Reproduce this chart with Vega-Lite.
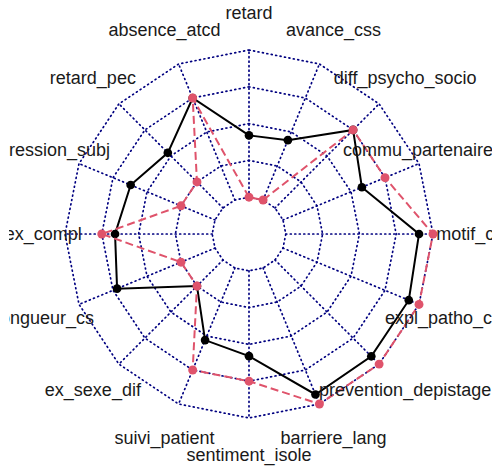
{
  "$schema": "https://vega.github.io/schema/vega-lite/v6.json",
  "width": 483,
  "height": 469,
  "padding": {"left": 9, "top": 0, "right": 0, "bottom": 0},
  "autosize": {"type": "none"},
  "background": "white",
  "config": {"view": {"stroke": null}},
  "datasets": {
    "scores": [
      {"i": 0, "item": "retard", "A": 0.42, "B": 0},
      {"i": 1, "item": "absence_atcd", "A": 0.75, "B": 0.75},
      {"i": 2, "item": "retard_pec", "A": 0.53, "B": 0.25},
      {"i": 3, "item": "expression_subj", "A": 0.62, "B": 0.25},
      {"i": 4, "item": "nb_ex_compl", "A": 0.66, "B": 0.75},
      {"i": 5, "item": "longueur_cs", "A": 0.72, "B": 0.25},
      {"i": 6, "item": "ex_sexe_dif", "A": 0.25, "B": 0.25},
      {"i": 7, "item": "suivi_patient", "A": 0.53, "B": 0.75},
      {"i": 8, "item": "sentiment_isole", "A": 0.58, "B": 0.75},
      {"i": 9, "item": "barriere_lang", "A": 0.93, "B": 1},
      {"i": 10, "item": "prevention_depistage", "A": 0.925, "B": 1},
      {"i": 11, "item": "expl_patho_cons", "A": 0.925, "B": 1},
      {"i": 12, "item": "motif_cs", "A": 0.905, "B": 1},
      {"i": 13, "item": "commu_partenaire_externe", "A": 0.58, "B": 0.75},
      {"i": 14, "item": "diff_psycho_socio", "A": 0.75, "B": 0.75},
      {"i": 15, "item": "avance_css", "A": 0.44, "B": 0}
    ],
    "grid": [
      {"level": 0, "i": [0,1,2,3,4,5,6,7,8,9,10,11,12,13,14,15]},
      {"level": 0.25, "i": [0,1,2,3,4,5,6,7,8,9,10,11,12,13,14,15]},
      {"level": 0.5, "i": [0,1,2,3,4,5,6,7,8,9,10,11,12,13,14,15]},
      {"level": 0.75, "i": [0,1,2,3,4,5,6,7,8,9,10,11,12,13,14,15]},
      {"level": 1, "i": [0,1,2,3,4,5,6,7,8,9,10,11,12,13,14,15]}
    ]
  },
  "layer": [
    {
      "data": {"name": "grid"},
      "transform": [
        {"flatten": ["i"]},
        {"calculate": "PI/2 + datum.i*PI/8", "as": "t"},
        {"calculate": "0.2 + 0.8*datum.level", "as": "r"},
        {"calculate": "datum.r*cos(datum.t)", "as": "x"},
        {"calculate": "datum.r*sin(datum.t)", "as": "y"}
      ],
      "mark": {"type": "line", "interpolate": "linear-closed", "color": "#000080", "strokeWidth": 1.7, "strokeDash": [1, 3.5], "strokeCap": "round"},
      "encoding": {
        "x": {"field": "x", "type": "quantitative", "scale": {"domain": [-1.30435, 1.32065], "nice": false, "zero": false}, "axis": null},
        "y": {"field": "y", "type": "quantitative", "scale": {"domain": [-1.27717, 1.27174], "nice": false, "zero": false}, "axis": null},
        "detail": {"field": "level"},
        "order": {"field": "i", "type": "quantitative"}
      }
    },
    {
      "data": {"name": "scores"},
      "transform": [
        {"calculate": "PI/2 + datum.i*PI/8", "as": "t"},
        {"calculate": "0.2*cos(datum.t)", "as": "x"},
        {"calculate": "0.2*sin(datum.t)", "as": "y"},
        {"calculate": "cos(datum.t)", "as": "x2"},
        {"calculate": "sin(datum.t)", "as": "y2"}
      ],
      "mark": {"type": "rule", "color": "#000080", "strokeWidth": 1.7, "strokeDash": [1, 3.5], "strokeCap": "round"},
      "encoding": {
        "x": {"field": "x", "type": "quantitative", "axis": null},
        "y": {"field": "y", "type": "quantitative", "axis": null},
        "x2": {"field": "x2"},
        "y2": {"field": "y2"}
      }
    },
    {
      "data": {"name": "scores"},
      "transform": [
        {"calculate": "PI/2 + datum.i*PI/8", "as": "t"},
        {"calculate": "0.2 + 0.8*datum.A", "as": "r"},
        {"calculate": "datum.r*cos(datum.t)", "as": "x"},
        {"calculate": "datum.r*sin(datum.t)", "as": "y"}
      ],
      "layer": [
        {
          "mark": {"type": "line", "interpolate": "linear-closed", "color": "black", "strokeWidth": 2},
          "encoding": {
            "x": {"field": "x", "type": "quantitative", "axis": null},
            "y": {"field": "y", "type": "quantitative", "axis": null},
            "order": {"field": "i", "type": "quantitative"}
          }
        },
        {
          "mark": {"type": "point", "filled": true, "color": "black", "size": 75, "opacity": 1},
          "encoding": {
            "x": {"field": "x", "type": "quantitative", "axis": null},
            "y": {"field": "y", "type": "quantitative", "axis": null}
          }
        }
      ]
    },
    {
      "data": {"name": "scores"},
      "transform": [
        {"calculate": "PI/2 + datum.i*PI/8", "as": "t"},
        {"calculate": "0.2 + 0.8*datum.B", "as": "r"},
        {"calculate": "datum.r*cos(datum.t)", "as": "x"},
        {"calculate": "datum.r*sin(datum.t)", "as": "y"}
      ],
      "layer": [
        {
          "mark": {"type": "line", "interpolate": "linear-closed", "color": "#DF536B", "strokeWidth": 2, "strokeDash": [8, 4]},
          "encoding": {
            "x": {"field": "x", "type": "quantitative", "axis": null},
            "y": {"field": "y", "type": "quantitative", "axis": null},
            "order": {"field": "i", "type": "quantitative"}
          }
        },
        {
          "mark": {"type": "point", "filled": true, "color": "#DF536B", "size": 80, "opacity": 1},
          "encoding": {
            "x": {"field": "x", "type": "quantitative", "axis": null},
            "y": {"field": "y", "type": "quantitative", "axis": null}
          }
        }
      ]
    },
    {
      "data": {"name": "scores"},
      "transform": [
        {"calculate": "PI/2 + datum.i*PI/8", "as": "t"},
        {"calculate": "1.2*cos(datum.t)", "as": "x"},
        {"calculate": "1.2*sin(datum.t)", "as": "y"}
      ],
      "mark": {"type": "text", "font": "Liberation Sans", "fontSize": 18, "color": "#1a1a1a", "align": "center", "baseline": "middle", "dy": 1, "clip": true},
      "encoding": {
        "x": {"field": "x", "type": "quantitative", "axis": null},
        "y": {"field": "y", "type": "quantitative", "axis": null},
        "text": {"field": "item"}
      }
    }
  ]
}
